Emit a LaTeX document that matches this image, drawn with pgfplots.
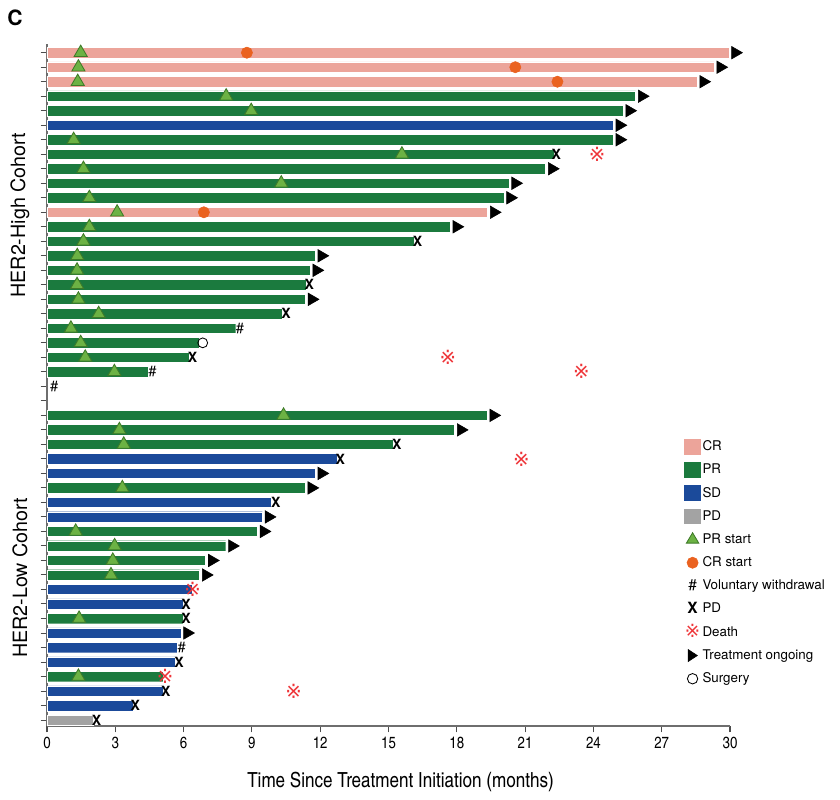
\documentclass[border=0pt]{standalone}
\usepackage{pgfplots}
\pgfplotsset{compat=1.18}
\usepackage{fontspec}
\setmainfont{TeX Gyre Heros}
\newfontfamily\cnfont{texgyreheroscn-regular.otf}
\newfontfamily\dejavu{DejaVu Sans}
\definecolor{crc}{RGB}{236,164,154}
\definecolor{prc}{RGB}{27,122,62}
\definecolor{sdc}{RGB}{27,74,154}
\definecolor{pdc}{RGB}{163,163,163}
\definecolor{prlight}{RGB}{108,178,68}
\definecolor{prdark}{RGB}{62,122,40}
\definecolor{crstart}{RGB}{234,98,32}
\definecolor{deathred}{RGB}{238,52,56}
\definecolor{axgray}{RGB}{110,110,110}
\begin{document}
\begin{tikzpicture}
\useasboundingbox (-11.75mm,-18.5mm) rectangle (198.25mm,181.5mm);
\begin{axis}[
  at={(0,0)}, anchor=south west,
  scale only axis, width=170.75mm, height=170.5mm,
  xmin=0, xmax=30, ymin=0.59, ymax=47.6,
  clip=false,
  axis lines*=left,
  axis line style={axgray, line width=1.2pt},
  xtick={0,3,...,30},
  ytick={1,...,47}, yticklabels={},
  tick align=outside,
  major tick length=1.6mm,
  x tick style={black!70, line width=0.8pt},
  y tick style={black!70, line width=0.7pt},
  /pgf/number format/assume math mode=true,
  xticklabel style={font=\cnfont\fontsize{11.5}{12}\selectfont},
  xlabel={Time Since Treatment Initiation (months)},
  xlabel style={at={(axis description cs:0.5176,0)}, anchor=base, yshift=-15.5mm, font=\cnfont\fontsize{14.8}{16}\selectfont},
  legend cell align=left,
  legend style={at={(rel axis cs:0.9327,0.4216)}, anchor=north west, draw=none, fill=none,
    inner sep=0pt, row sep=1.8mm, font=\fontsize{9.5}{11}\selectfont,
    nodes={inner sep=0.6pt}, column sep=0.2mm},
]
% ---- bars ----
\addplot[xbar, bar width=0.72, bar shift=0pt, fill=crc, draw=white, line width=0.3pt, forget plot]
 coordinates {(29.95,47) (29.3,46) (28.55,45) (19.35,36)};
\addplot[xbar, bar width=0.72, bar shift=0pt, fill=prc, draw=white, line width=0.3pt, forget plot]
 coordinates {(25.85,44) (25.3,43) (24.87,41) (22.26,40) (21.9,39) (20.29,38) (20.07,37)
  (17.71,35) (16.15,34) (11.78,33) (11.56,32) (11.37,31) (11.35,30) (10.34,29) (8.29,28)
  (6.7,27) (6.26,26) (4.43,25)
  (19.33,22) (17.9,21) (15.22,20) (11.34,17) (9.24,14) (7.85,13) (6.97,12) (6.7,11)
  (5.99,8) (5.09,4)};
\addplot[xbar, bar width=0.72, bar shift=0pt, fill=sdc, draw=white, line width=0.3pt, forget plot]
 coordinates {(24.87,42)
  (12.73,19) (11.78,18) (9.85,16) (9.46,15) (6.36,10) (5.99,9) (5.88,7) (5.7,6) (5.63,5)
  (5.11,3) (3.77,2)};
\addplot[xbar, bar width=0.72, bar shift=0pt, fill=pdc, draw=white, line width=0.3pt, forget plot]
 coordinates {(2.04,1)};
% ---- PR start ----
\addplot[only marks, mark=triangle*, mark size=5.4pt, mark options={fill=prlight, draw=prdark, line width=0.6pt}, forget plot]
 coordinates {(1.48,47) (1.38,46) (1.35,45) (7.87,44) (8.97,43) (1.17,41) (15.59,40) (1.6,39)
  (10.29,38) (1.86,37) (3.08,36) (1.86,35) (1.6,34) (1.33,33) (1.32,32) (1.32,31) (1.38,30)
  (2.27,29) (1.05,28) (1.48,27) (1.68,26) (2.96,25)
  (10.39,22) (3.18,21) (3.37,20) (3.31,17) (1.26,14) (2.97,13) (2.89,12) (2.81,11) (1.41,8) (1.38,4)};
% ---- CR start ----
\addplot[only marks, mark=*, mark size=4pt, mark options={fill=crstart, draw=crstart}, forget plot]
 coordinates {(8.78,47) (20.57,46) (22.42,45) (6.89,36)};
% ---- Treatment ongoing ----
\addplot[only marks, mark=triangle*, mark size=5.1pt, mark options={xshift=1.6mm, rotate=-90, fill=black, draw=black}, forget plot]
 coordinates {(29.95,47) (29.3,46) (28.55,45) (25.85,44) (25.3,43) (24.87,42) (24.87,41)
  (21.9,39) (20.29,38) (20.07,37) (19.35,36) (17.71,35) (11.78,33) (11.56,32) (11.35,30)
  (19.33,22) (17.9,21) (11.78,18) (11.34,17) (9.46,15) (9.24,14) (7.85,13) (6.97,12) (6.7,11) (5.88,7)};
% ---- PD (X) ----
\addplot[only marks, mark=text, text mark={\fontsize{10}{10}\selectfont\bfseries X}, color=black, forget plot]
 coordinates {(22.37,40) (16.28,34) (11.52,31) (10.5,29) (6.39,26)
  (15.37,20) (12.88,19) (10.05,16) (6.11,9) (6.11,8) (5.8,5) (5.22,3) (3.88,2) (2.18,1)};
% ---- Voluntary withdrawal ----
\addplot[only marks, mark=text, text mark={\fontsize{10.5}{10}\selectfont\#}, color=black, forget plot]
 coordinates {(8.48,28) (4.63,25) (0.32,24) (5.92,6)};
% ---- Death ----
\addplot[only marks, mark=text, text mark={\textcolor{deathred}{\dejavu\fontsize{14}{14}\selectfont ※}}, forget plot]
 coordinates {(24.16,40) (17.61,26) (23.47,25) (20.84,19) (6.4,10) (5.19,4) (10.83,3)};
% ---- Surgery ----
\addplot[only marks, mark=o, mark size=3.5pt, mark options={draw=black, line width=0.6pt}, forget plot]
 coordinates {(6.84,27)};
% ---- legend ----
\addlegendimage{legend image code/.code={\path[draw=none,fill=none] (0mm,-2mm) rectangle (4mm,2mm); \fill[crc] (0mm,-1.85mm) rectangle (4mm,1.85mm);}}
\addlegendentry{CR}
\addlegendimage{legend image code/.code={\path[draw=none,fill=none] (0mm,-2mm) rectangle (4mm,2mm); \fill[prc] (0mm,-1.85mm) rectangle (4mm,1.85mm);}}
\addlegendentry{PR}
\addlegendimage{legend image code/.code={\path[draw=none,fill=none] (0mm,-2mm) rectangle (4mm,2mm); \fill[sdc] (0mm,-1.85mm) rectangle (4mm,1.85mm);}}
\addlegendentry{SD}
\addlegendimage{legend image code/.code={\path[draw=none,fill=none] (0mm,-2mm) rectangle (4mm,2mm); \fill[pdc] (0mm,-1.85mm) rectangle (4mm,1.85mm);}}
\addlegendentry{PD}
\addlegendimage{legend image code/.code={\path[draw=none,fill=none] (0mm,-2mm) rectangle (4mm,2mm); \filldraw[fill=prlight, draw=prdark, line width=0.6pt] (2mm,1.7mm) -- (0.45mm,-0.9mm) -- (3.55mm,-0.9mm) -- cycle;}}
\addlegendentry{PR start}
\addlegendimage{legend image code/.code={\path[draw=none,fill=none] (0mm,-2mm) rectangle (4mm,2mm); \fill[crstart] (2mm,0mm) circle (1.4mm);}}
\addlegendentry{CR start}
\addlegendimage{legend image code/.code={\path[draw=none,fill=none] (0mm,-2mm) rectangle (4mm,2mm); \node[draw=none, anchor=center, inner sep=0pt, font=\fontsize{11}{10}\selectfont] at (2mm,0mm) {\#};}}
\addlegendentry{Voluntary withdrawal}
\addlegendimage{legend image code/.code={\path[draw=none,fill=none] (0mm,-2mm) rectangle (4mm,2mm); \node[draw=none, anchor=center, inner sep=0pt, font=\fontsize{11}{10}\selectfont\bfseries] at (2mm,0mm) {X};}}
\addlegendentry{PD}
\addlegendimage{legend image code/.code={\path[draw=none,fill=none] (0mm,-2mm) rectangle (4mm,2mm); \node[draw=none, anchor=center, inner sep=0pt, text=deathred, font=\dejavu\fontsize{13}{12}\selectfont] at (2mm,0mm) {※};}}
\addlegendentry{Death}
\addlegendimage{legend image code/.code={\path[draw=none,fill=none] (0mm,-2mm) rectangle (4mm,2mm); \fill[black] (0.9mm,1.5mm) -- (0.9mm,-1.5mm) -- (3.2mm,0mm) -- cycle;}}
\addlegendentry{Treatment ongoing}
\addlegendimage{legend image code/.code={\path[draw=none,fill=none] (0mm,-2mm) rectangle (4mm,2mm); \draw[black, line width=0.6pt] (2mm,0mm) circle (1.3mm);}}
\addlegendentry{Surgery}
% ---- cohort labels ----
\node[rotate=90, anchor=center, font=\fontsize{14}{16}\selectfont] at ([xshift=-6.75mm]axis cs:0,35.8) {HER2-High Cohort};
\node[rotate=90, anchor=center, font=\fontsize{14}{16}\selectfont] at ([xshift=-6.75mm]axis cs:0,10.8) {HER2-Low Cohort};
\end{axis}
\node[font=\fontsize{15}{15}\selectfont\bfseries] at (-8mm,177mm) {C};
\end{tikzpicture}
\end{document}
